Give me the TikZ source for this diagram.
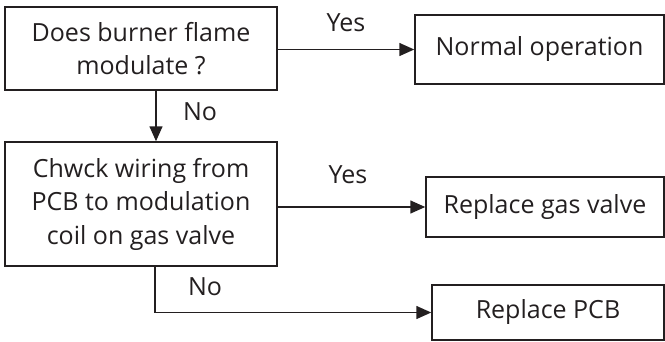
\documentclass[tikz,border=0pt]{standalone}
\usepackage{fontspec}
\setmainfont{Open Sans}
\usetikzlibrary{arrows.meta,calc}
\definecolor{ink}{HTML}{231F20}
\begin{document}
\begin{tikzpicture}[x=1pt,y=-1pt,
  box/.style={draw=ink,line width=1.5pt,inner sep=0pt,align=center,
    font=\fontsize{25}{33.5}\selectfont,text=ink},
  arr/.style={draw=ink,line width=1.5pt,-{Triangle[length=15pt,width=13pt]}},
  lbl/.style={font=\fontsize{25}{30}\selectfont,text=ink,inner sep=0pt}]
\useasboundingbox (0,0) rectangle (665,341);
\node[box,minimum width=272pt,minimum height=83pt] (b1) at (141,48.5) {Does burner flame\\modulate ?};
\node[box,minimum width=272pt,minimum height=124pt] (b2) at (141,204) {Chwck wiring from\\PCB to modulation\\coil on gas valve};
\node[box,minimum width=249pt,minimum height=69pt] (n1) at (539.5,49.5) {Normal operation};
\node[box,minimum width=238pt,minimum height=60pt] (n2) at (545,207) {Replace gas valve};
\node[box,minimum width=232pt,minimum height=55pt] (n3) at (548,312.5) {Replace PCB};
\draw[arr] (b1.east |- n1.west) -- (n1.west);
\draw[arr] (b2.east |- n2.west) -- (n2.west);
\draw[arr] ([xshift=15pt]b1.south) -- ([xshift=15pt]b2.north);
\draw[arr] ([xshift=14pt]b2.south) |- (n3.west);
\node[lbl] (y1) at (346,23) {Yes};
\node[lbl] (no1) at (200,112) {No};
\node[lbl] (y2) at (348,175) {Yes};
\node[lbl] (no2) at (205,287) {No};
\end{tikzpicture}
\end{document}
